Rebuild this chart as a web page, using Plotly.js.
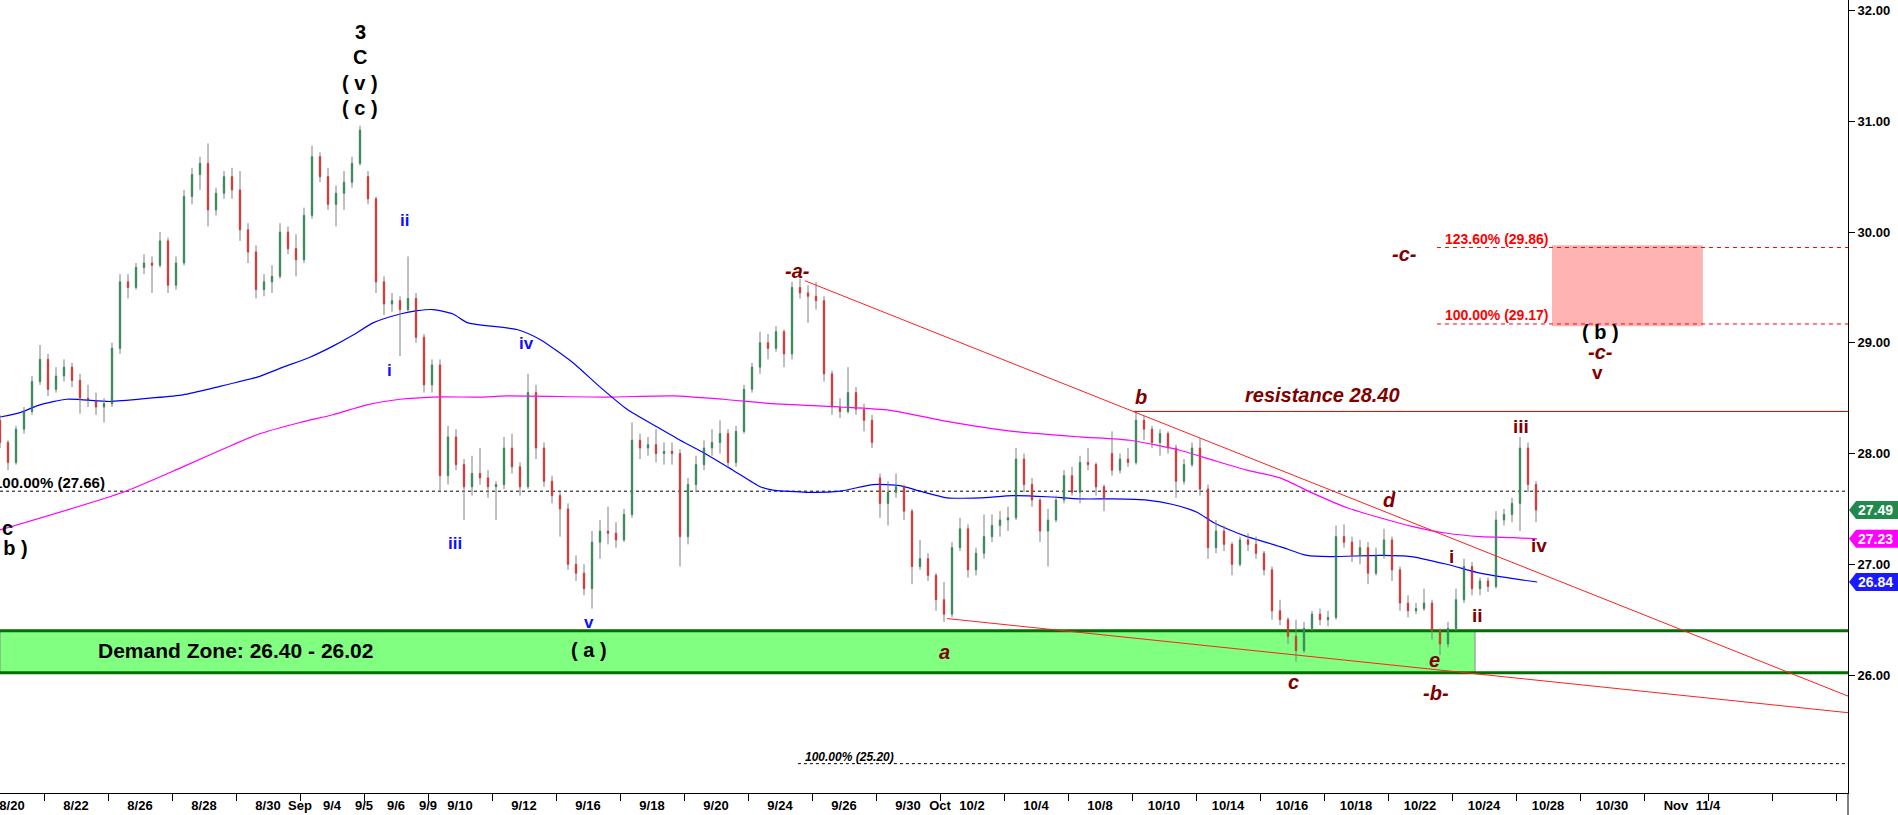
<!DOCTYPE html>
<html>
<head>
<meta charset="utf-8">
<script src="https://cdn.plot.ly/plotly-3.0.1.min.js"></script>
<style>
  html, body { margin: 0; padding: 0; background: #ffffff; }
  #chart { width: 1898px; height: 815px; }
</style>
</head>
<body>
<div id="chart"></div>
<script>
// ---------- DATA ----------
// x-axis day labels and their trading-day index (8/20 = day 0)
const dayLabels = ['8/20','8/22','8/26','8/28','8/30','Sep','9/4','9/5','9/6','9/9','9/10','9/12','9/16','9/18','9/20','9/24','9/26','9/30','Oct','10/2','10/4','10/8','10/10','10/14','10/16','10/18','10/22','10/24','10/28','10/30','Nov','11/4'];
const dayIndex  = [0,2,4,6,8,9,10,11,12,13,14,16,18,20,22,24,26,28,29,30,32,34,36,38,40,42,44,46,48,50,52,53];

// intraday bars (4 per trading day)
const open = [
28.30,28.10,27.92,28.22, 28.38,28.65,28.85,28.58, 28.70,28.78,28.66,28.50, 28.48,28.42,28.45,28.95,
29.55,29.50,29.68,29.72, 29.70,29.92,29.52,29.72, 30.32,30.52,30.62,30.20, 30.35,30.50,30.38,30.02,
29.82,29.48,29.55,29.60, 30.00,29.85,29.75,30.15, 30.68,30.50,30.25,30.35, 30.45,30.62,30.50,30.30,
29.55,29.35,29.38,29.30, 29.40,29.05,28.62,28.80, 27.80,28.15,27.90,27.70, 27.82,27.78,27.70,27.72,
28.05,27.88,27.70,28.55, 28.05,27.75,27.62,27.50, 27.00,26.92,26.78,27.20, 27.30,27.28,27.22,27.45,
28.12,28.05,28.08,28.00, 28.02,28.00,27.25,27.72, 27.90,28.05,28.10,28.18, 27.92,28.20,28.58,28.78,
29.00,28.95,29.10,28.90, 29.50,29.45,29.42,29.38, 28.72,28.42,28.38,28.55, 28.40,28.30,27.78,27.55,
27.65,27.70,27.48,26.98, 27.05,26.90,26.68,26.55, 27.15,27.32,26.95,27.10, 27.25,27.35,27.40,27.42,
27.95,27.72,27.58,27.30, 27.40,27.58,27.80,27.65, 27.92,27.90,27.70,28.00, 27.85,27.95,27.92,28.30,
28.22,28.10,28.18,28.05, 27.75,27.90,28.05,27.68, 27.15,27.30,27.18,27.00, 27.22,27.18,27.10,26.95,
26.58,26.50,26.35,26.22, 26.42,26.55,26.50,26.52, 27.25,27.20,27.08,27.15, 26.92,27.08,27.22,26.95,
26.65,26.58,26.60,26.65, 26.40,26.28,26.42,26.68, 26.98,26.78,26.85,26.80, 27.40,27.45,27.55,28.05,
27.72];
const high = [
28.35,28.12,28.25,28.42, 28.70,28.98,28.90,28.78, 28.85,28.82,28.72,28.62, 28.55,28.50,29.00,29.62,
29.62,29.72,29.80,29.78, 30.00,29.95,29.78,30.38, 30.58,30.68,30.80,30.40, 30.55,30.58,30.55,30.08,
29.88,29.62,29.70,30.08, 30.05,29.98,30.22,30.78, 30.72,30.58,30.42,30.55, 30.68,30.96,30.55,30.32,
29.60,29.45,29.42,29.78, 29.45,29.08,28.85,28.85, 28.25,28.22,27.95,27.98, 28.05,27.85,27.75,28.15,
28.18,27.92,28.72,28.62, 28.10,27.80,27.65,27.55, 27.08,27.00,27.30,27.40, 27.52,27.38,27.50,28.28,
28.18,28.15,28.22,28.10, 28.10,28.04,27.78,27.98, 28.12,28.22,28.30,28.22, 28.25,28.62,28.82,29.10,
29.08,29.15,29.12,29.55, 29.58,29.52,29.55,29.42, 28.75,28.50,28.78,28.60, 28.45,28.35,27.82,27.75,
27.82,27.72,27.50,27.22, 27.10,26.92,26.84,27.20, 27.42,27.36,27.15,27.45, 27.45,27.48,27.52,28.05,
28.00,27.78,27.60,27.50, 27.62,27.85,27.88,27.98, 28.05,27.92,27.72,28.20, 28.00,28.05,28.38,28.34,
28.25,28.22,28.20,28.08, 27.95,28.10,28.14,27.72, 27.40,27.35,27.20,27.25, 27.28,27.25,27.12,26.98,
26.68,26.52,26.50,26.48, 26.58,26.60,26.58,27.35, 27.36,27.25,27.22,27.20, 27.15,27.32,27.25,26.98,
26.72,26.65,26.78,26.68, 26.42,26.48,26.78,27.05, 27.02,26.88,26.88,27.48, 27.50,27.60,28.15,28.10,
27.75];
const low = [
28.05,27.85,27.90,28.18, 28.35,28.62,28.52,28.55, 28.65,28.60,28.36,28.42, 28.35,28.28,28.42,28.90,
29.40,29.48,29.62,29.45, 29.68,29.45,29.48,29.70, 30.25,30.38,30.05,30.15, 30.30,30.30,29.92,29.72,
29.40,29.42,29.45,29.58, 29.80,29.60,29.72,30.12, 30.45,30.20,30.05,30.20, 30.40,30.60,30.25,29.45,
29.25,29.28,28.88,29.28, 29.00,28.55,28.55,27.65, 27.72,27.85,27.40,27.62, 27.72,27.60,27.40,27.68,
27.82,27.62,27.68,27.95, 27.70,27.55,27.25,26.95, 26.85,26.72,26.60,27.05, 27.18,27.15,27.20,27.42,
27.95,27.98,27.92,27.90, 27.90,26.98,27.18,27.65, 27.85,27.98,28.00,27.88, 27.88,28.18,28.55,28.72,
28.85,28.92,28.78,28.85, 29.40,29.18,29.30,28.65, 28.35,28.32,28.36,28.35, 28.20,28.05,27.42,27.35,
27.60,27.40,26.82,26.95, 26.85,26.58,26.48,26.52, 27.12,26.88,26.90,27.05, 27.20,27.25,27.30,27.40,
27.65,27.52,27.20,26.98, 27.38,27.55,27.62,27.55, 27.85,27.62,27.48,27.80, 27.82,27.88,27.90,28.12,
28.05,27.98,28.00,27.60, 27.72,27.88,27.62,27.05, 27.10,27.12,26.90,26.98, 27.12,27.05,26.90,26.50,
26.45,26.28,26.12,26.20, 26.40,26.45,26.44,26.50, 27.15,27.02,27.00,26.82, 26.90,27.05,26.85,26.58,
26.52,26.55,26.58,26.32, 26.18,26.25,26.40,26.65, 26.72,26.72,26.75,26.78, 27.35,27.38,27.30,27.65,
27.38];
const close = [
28.10,27.92,28.22,28.38, 28.65,28.85,28.58,28.70, 28.78,28.66,28.50,28.48, 28.42,28.45,28.95,29.55,
29.50,29.68,29.72,29.70, 29.92,29.52,29.72,30.32, 30.52,30.62,30.20,30.35, 30.50,30.38,30.02,29.82,
29.48,29.55,29.60,30.00, 29.85,29.75,30.15,30.68, 30.50,30.25,30.35,30.45, 30.62,30.92,30.30,29.55,
29.35,29.38,29.30,29.40, 29.05,28.62,28.80,27.80, 28.15,27.90,27.70,27.82, 27.78,27.70,27.72,28.05,
27.88,27.70,28.55,28.05, 27.75,27.62,27.50,27.00, 26.92,26.78,27.20,27.30, 27.28,27.22,27.45,28.12,
28.05,28.08,28.00,28.02, 28.00,27.25,27.72,27.90, 28.05,28.10,28.18,27.92, 28.20,28.58,28.78,29.00,
28.95,29.10,28.90,29.50, 29.45,29.42,29.38,28.72, 28.42,28.38,28.55,28.40, 28.30,28.10,27.55,27.65,
27.70,27.48,26.98,27.05, 26.90,26.68,26.55,27.15, 27.32,26.95,27.10,27.25, 27.35,27.40,27.42,27.95,
27.72,27.58,27.30,27.40, 27.58,27.80,27.65,27.92, 27.90,27.70,27.60,27.85, 27.95,27.92,28.30,28.22,
28.10,28.18,28.05,27.75, 27.90,28.05,27.68,27.15, 27.30,27.18,27.00,27.22, 27.18,27.10,26.95,26.58,
26.50,26.35,26.22,26.42, 26.55,26.50,26.52,27.25, 27.20,27.08,27.15,26.92, 27.08,27.22,26.95,26.65,
26.58,26.60,26.65,26.40, 26.28,26.42,26.68,26.98, 26.78,26.85,26.80,27.40, 27.45,27.55,28.05,27.72,
27.49];

// moving averages, traced (time in trading days, value)
const maBlueT = [-0.375,0.25,0.875,1.72,3.06,4.31,5.34,6.41,7.66,8.47,9.31,10.03,10.66,11.28,12.13,12.66,13.16,13.78,14.25,15.78,16.5,17.53,18.38,19.22,20.16,20.88,21.72,22.53,23.38,23.78,24.84,25.88,26.91,27.75,28.38,29.22,30.25,31.28,32.34,33.38,34.41,35.47,36.28,37.03,37.53,38.06,38.59,39.63,40.47,41.19,42.75,43.72,44.84,45.88,46.91,47.66];
const maBlue  = [28.33,28.37,28.44,28.49,28.47,28.50,28.53,28.60,28.69,28.78,28.87,28.97,29.07,29.18,29.26,29.29,29.30,29.26,29.18,29.12,29.03,28.82,28.60,28.40,28.24,28.12,27.99,27.85,27.70,27.67,27.65,27.66,27.72,27.71,27.66,27.60,27.60,27.62,27.61,27.59,27.59,27.58,27.54,27.47,27.38,27.31,27.25,27.16,27.08,27.07,27.08,27.07,27.00,26.92,26.87,26.84];
const maMagT  = [-0.375,3.47,5.34,6.91,7.66,9.0,10.03,11.09,12.13,13.16,14.63,15.47,18.59,20.66,22.22,23.78,25.88,27.44,29.22,31.28,33.38,34.94,36.5,37.53,38.59,39.63,40.66,41.72,42.75,43.78,44.84,45.88,46.91,47.66];
const maMag   = [27.31,27.65,27.88,28.08,28.17,28.28,28.35,28.44,28.49,28.51,28.51,28.52,28.51,28.52,28.49,28.45,28.42,28.39,28.29,28.20,28.15,28.12,28.03,27.94,27.85,27.78,27.64,27.51,27.42,27.34,27.28,27.25,27.24,27.23];

// levels and drawn objects (time in trading days, price)
const fibLevels = [29.86, 29.17];
const fibText   = ['123.60% (29.86)', '100.00% (29.17)'];
const retraceLevels = [27.66, 25.20];
const resistanceLevel = 28.38;
const demandZone = [26.02, 26.40];
const targetBoxT = [48.125, 52.84];
const targetBoxP = [29.15, 29.88];
const upperTrendT = [24.78, 57.375];
const upperTrendP = [29.56, 25.81];
const lowerTrendT = [29.22, 57.375];
const lowerTrendP = [26.51, 25.66];

// ---------- BUILD ----------
const BARS_PER_DAY = 4;
const FIRST_BAR_T = -0.375;
const t = open.map((_, i) => FIRST_BAR_T + i / BARS_PER_DAY);
const X0 = -0.375, X1 = 57.375;
const FONT = 'Liberation Sans, Arial, sans-serif';
const MAROON = '#800000';

const wickX = [], wickY = [];
for (let i = 0; i < t.length; i++) {
  wickX.push(t[i], t[i], null);
  wickY.push(low[i], high[i], null);
}
const bodyHi = open.map((o, i) => Math.max(o, close[i]));
const bodyLo = open.map((o, i) => Math.min(o, close[i]));

const traces = [
  { type: 'scatter', mode: 'lines', x: maMagT, y: maMag, line: { color: '#ff00ff', width: 1.2, shape: 'spline', smoothing: 0.6 }, hoverinfo: 'skip' },
  { type: 'scatter', mode: 'lines', x: maBlueT, y: maBlue, line: { color: '#0000ff', width: 1.2, shape: 'spline', smoothing: 0.6 }, hoverinfo: 'skip' },
  { type: 'scatter', mode: 'lines', x: wickX, y: wickY, line: { color: '#808080', width: 1 }, hoverinfo: 'skip', connectgaps: false },
  { type: 'candlestick', x: t, open: open, high: bodyHi, low: bodyLo, close: close,
    increasing: { line: { color: '#008a3a', width: 1 }, fillcolor: '#008a3a' },
    decreasing: { line: { color: '#ff0000', width: 1 }, fillcolor: '#ff0000' },
    whiskerwidth: 0, hoverinfo: 'skip' }
];

const shapes = [];
// demand zone
shapes.push({ type: 'rect', xref: 'x', yref: 'y', x0: X0, x1: 45.72, y0: demandZone[0], y1: demandZone[1],
  fillcolor: '#80ff80', line: { color: '#8a8a8a', width: 1 }, layer: 'below' });
demandZone.forEach(v => shapes.push({ type: 'line', xref: 'x', yref: 'y', x0: X0, x1: X1, y0: v, y1: v,
  line: { color: '#006e00', width: 3 }, layer: 'below' }));
// target box
shapes.push({ type: 'rect', xref: 'x', yref: 'y', x0: targetBoxT[0], x1: targetBoxT[1], y0: targetBoxP[0], y1: targetBoxP[1],
  fillcolor: '#ffb3b3', line: { width: 0 }, layer: 'below' });
// fib dashed red lines
fibLevels.forEach(v => shapes.push({ type: 'line', xref: 'x', yref: 'y', x0: 44.53, x1: X1, y0: v, y1: v,
  line: { color: '#ff0000', width: 1, dash: '4px,4px' }, layer: 'above' }));
// retracement dashed black lines
shapes.push({ type: 'line', xref: 'x', yref: 'y', x0: X0, x1: X1, y0: retraceLevels[0], y1: retraceLevels[0],
  line: { color: '#000000', width: 1, dash: '3px,3px' }, layer: 'below' });
shapes.push({ type: 'line', xref: 'x', yref: 'y', x0: 24.56, x1: X1, y0: retraceLevels[1], y1: retraceLevels[1],
  line: { color: '#000000', width: 1, dash: '3px,3px' }, layer: 'below' });
// resistance
shapes.push({ type: 'line', xref: 'x', yref: 'y', x0: 35.03, x1: X1, y0: resistanceLevel, y1: resistanceLevel,
  line: { color: '#e00000', width: 1 }, layer: 'above' });
// trendlines
shapes.push({ type: 'line', xref: 'x', yref: 'y', x0: upperTrendT[0], x1: upperTrendT[1], y0: upperTrendP[0], y1: upperTrendP[1],
  line: { color: '#ff2020', width: 1 }, layer: 'above' });
shapes.push({ type: 'line', xref: 'x', yref: 'y', x0: lowerTrendT[0], x1: lowerTrendT[1], y0: lowerTrendP[0], y1: lowerTrendP[1],
  line: { color: '#ff2020', width: 1 }, layer: 'above' });
// axis extension below
shapes.push({ type: 'line', xref: 'paper', yref: 'paper', x0: 1, x1: 1, y0: 0, y1: -0.03, line: { color: '#000', width: 1 } });

// price tags on right axis
const tags = [
  { v: close[close.length - 1], c: '#1f8a4c' },
  { v: maMag[maMag.length - 1], c: '#ff00ff' },
  { v: maBlue[maBlue.length - 1], c: '#1a1aff' }
];
tags.forEach(tg => shapes.push({ type: 'path', xref: 'paper', yref: 'y', xsizemode: 'pixel', ysizemode: 'pixel',
  xanchor: 1, yanchor: tg.v, path: 'M1,0 L8,-9 L50,-9 L50,9 L8,9 Z', fillcolor: tg.c, line: { width: 0 }, layer: 'above' }));

const ann = [];
function lab(text, x, y, color, size, opts) {
  opts = opts || {};
  ann.push(Object.assign({ text: text, x: x, y: y, xref: 'x', yref: 'y', showarrow: false,
    font: { family: FONT, size: size, color: color }, xanchor: 'center', yanchor: 'middle' }, opts));
}
// black wave labels
lab('<b>3</b>', 10.875, 31.806, '#000', 20);
lab('<b>C</b>', 10.875, 31.58, '#000', 20);
lab('<b>( v )</b>', 10.875, 31.346, '#000', 20);
lab('<b>( c )</b>', 10.875, 31.12, '#000', 20);
lab('<b>( a )</b>', 18.03, 26.226, '#000', 20);
lab('<b>Demand Zone: 26.40 - 26.02</b>', 6.97, 26.226, '#000', 21);
lab('<b>c</b>', X0, 27.33, '#000', 20, { xanchor: 'left' });
lab('<b>( b )</b>', 0.55, 27.147, '#000', 20, { xanchor: 'right' });
lab('<b>100.00% (27.66)</b>', 2.97, 27.743, '#000', 15, { xanchor: 'right' });
lab('<b><i>100.00% (25.20)</i></b>', 24.72, 25.26, '#000', 12, { xanchor: 'left' });
// blue
lab('<b>ii</b>', 12.28, 30.108, '#1010ff', 17);
lab('<b>i</b>', 11.81, 28.754, '#1010ff', 17);
lab('<b>iv</b>', 16.09, 28.998, '#1010ff', 17);
lab('<b>iii</b>', 13.84, 27.19, '#1010ff', 17);
lab('<b>v</b>', 18.03, 26.47, '#1010ff', 17);
// maroon
lab('<b><i>-a-</i></b>', 24.56, 29.65, MAROON, 20);
lab('<b><i>b</i></b>', 35.28, 28.51, MAROON, 20);
lab('<b><i>resistance 28.40</i></b>', 40.94, 28.53, MAROON, 20);
lab('<b><i>d</i></b>', 43.06, 27.58, MAROON, 20);
lab('<b><i>a</i></b>', 29.125, 26.208, MAROON, 20);
lab('<b><i>c</i></b>', 40.06, 25.937, MAROON, 20);
lab('<b><i>e</i></b>', 44.44, 26.136, MAROON, 20);
lab('<b><i>-b-</i></b>', 44.5, 25.838, MAROON, 20);
lab('<b>i</b>', 44.97, 27.066, MAROON, 19);
lab('<b>ii</b>', 45.81, 26.542, MAROON, 19);
lab('<b>iii</b>', 47.16, 28.24, MAROON, 19);
lab('<b>iv</b>', 47.72, 27.174, MAROON, 19);
lab('<b><i>-c-</i></b>', 43.5, 29.8, MAROON, 20);
lab('<b>( b )</b>', 49.625, 29.097, '#000', 20);
lab('<b><i>-c-</i></b>', 49.625, 28.92, MAROON, 20);
lab('<b>v</b>', 49.56, 28.736, MAROON, 19);
// fib labels
fibLevels.forEach((v, i) => lab('<b>' + fibText[i] + '</b>', 44.72, v + 0.077, '#ff0000', 14, { xanchor: 'left' }));
// tag texts
tags.forEach(tg => ann.push({ text: '<b>' + tg.v.toFixed(2) + '</b>', xref: 'paper', yref: 'y', x: 1, y: tg.v,
  xanchor: 'left', yanchor: 'middle', xshift: 8, showarrow: false, font: { family: FONT, size: 14, color: '#ffffff' } }));

const layout = {
  width: 1898, height: 815,
  margin: { l: 0, r: 50, t: 0, b: 22, pad: 0 },
  paper_bgcolor: '#ffffff', plot_bgcolor: '#ffffff',
  showlegend: false,
  boxgap: 0.76,
  xaxis: {
    type: 'linear', range: [X0, X1], showgrid: false, zeroline: false,
    rangeslider: { visible: false },
    tickmode: 'array', tickvals: dayIndex, ticktext: dayLabels, ticks: '',
    ticklabeloverflow: 'allow',
    tickfont: { family: FONT, size: 13, color: '#000', weight: 'bold' },
    showline: true, linecolor: '#000', linewidth: 1,
    minor: { ticks: 'outside', tick0: 1, dtick: 2, ticklen: 7, tickcolor: '#000', tickwidth: 1, showgrid: false }
  },
  yaxis: {
    side: 'right', range: [24.935, 32.095], showgrid: false, zeroline: false,
    tickmode: 'array', tickvals: [26, 27, 28, 29, 30, 31, 32], ticktext: ['26.00','27.00','28.00','29.00','30.00','31.00','32.00'],
    ticks: 'outside', ticklen: 6, tickcolor: '#000',
    tickfont: { family: FONT, size: 13, color: '#000', weight: 'bold' },
    showline: true, linecolor: '#000', linewidth: 1
  },
  shapes: shapes,
  annotations: ann
};

Plotly.newPlot('chart', traces, layout, { staticPlot: true, displayModeBar: false });
</script>
</body>
</html>
